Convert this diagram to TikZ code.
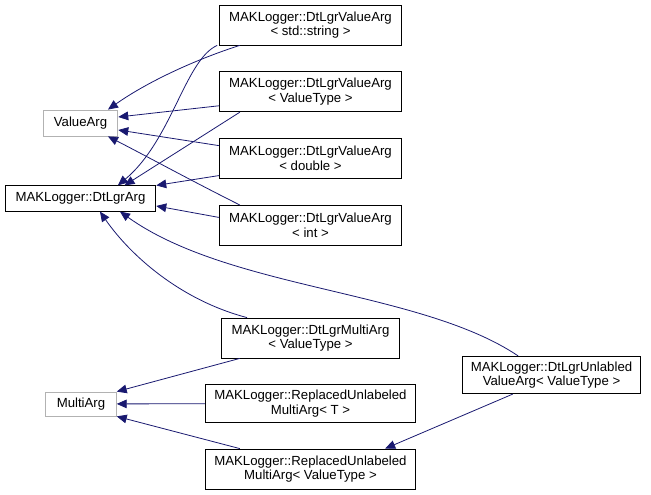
\documentclass[tikz,border=0pt]{standalone}
\usepackage{fontspec}
\setmainfont{Liberation Sans}
\usetikzlibrary{arrows.meta,positioning}

\begin{document}
\begin{tikzpicture}[x=0.75pt,y=-0.75pt,
  cls/.style={draw,fill=white,align=center,inner sep=1pt,font=\fontsize{9.9}{11}\selectfont,line width=0.6pt},
  ext/.style={cls,draw=black!30},
  inh/.style={draw={rgb,255:red,25;green,25;blue,112},line width=0.6pt,-{Triangle[length=7.5pt,width=6.5pt,fill={rgb,255:red,25;green,25;blue,112}]}}]
  \useasboundingbox (0,0) rectangle (651,495);
  % base classes
  \node[ext,minimum width=56pt,minimum height=19.5pt] (valuearg) at (80.5,123) {ValueArg};
  \node[cls,minimum width=113pt,minimum height=19pt] (dtlgrarg) at (80.5,198.5) {MAKLogger::DtLgrArg};
  \node[ext,minimum width=53pt,minimum height=18pt] (multiarg) at (81,404) {MultiArg};
  % value args
  \node[cls,minimum width=137pt,minimum height=30pt] (vstring) at (310.5,25) {MAKLogger::DtLgrValueArg\\{}< std::string >};
  \node[cls,minimum width=137pt,minimum height=30pt,below=19.5pt of vstring] (vtype) {MAKLogger::DtLgrValueArg\\{}< ValueType >};
  \node[cls,minimum width=137pt,minimum height=30pt,below=19.5pt of vtype] (vdouble) {MAKLogger::DtLgrValueArg\\{}< double >};
  \node[cls,minimum width=137pt,minimum height=30pt,below=19.5pt of vdouble] (vint) {MAKLogger::DtLgrValueArg\\{}< int >};
  % multi args
  \node[cls,minimum width=134pt,minimum height=30pt] (dmulti) at (310.5,338) {MAKLogger::DtLgrMultiArg\\{}< ValueType >};
  \node[cls,minimum width=158pt,minimum height=29pt] (rmultit) at (310.5,403.5) {MAKLogger::ReplacedUnlabeled\\MultiArg< T >};
  \node[cls,minimum width=158pt,minimum height=30pt] (rmultiv) at (310.5,469) {MAKLogger::ReplacedUnlabeled\\MultiArg< ValueType >};
  \node[cls,minimum width=133pt,minimum height=28pt] (unlabled) at (551.5,375) {MAKLogger::DtLgrUnlabled\\ValueArg< ValueType >};

  \draw[inh] ([xshift=-53pt]vstring.south) .. controls (200,58) and (150,80) .. ([xshift=20.6pt]valuearg.north);
  \draw[inh] ([xshift=-70pt]vstring.south) .. controls (185,60) and (172,140) .. ([xshift=28pt]dtlgrarg.north);
  \draw[inh] ([yshift=-10.5pt]vtype.west) -- ([yshift=4.5pt]valuearg.east);
  \draw[inh] ([xshift=-53pt]vtype.south) -- ([xshift=33pt]dtlgrarg.north);
  \draw[inh] ([yshift=9.75pt]vdouble.west) -- ([yshift=-5.25pt]valuearg.east);
  \draw[inh] ([yshift=-12.75pt]vdouble.west) -- (dtlgrarg.north east);
  \draw[inh] ([xshift=-53pt]vint.north) .. controls (190,180) and (150,158) .. ([xshift=20.6pt]valuearg.south);
  \draw[inh] ([yshift=6pt]vint.west) -- ([yshift=-5.6pt]dtlgrarg.east);
  \draw[inh] ([xshift=-47.6pt]dmulti.north) .. controls (180,300) and (130,255) .. ([xshift=14.6pt]dtlgrarg.south);
  \draw[inh] ([xshift=-25pt]unlabled.north) .. controls (420,290) and (230,290) .. ([xshift=29.6pt]dtlgrarg.south);
  \draw[inh] ([xshift=-53pt]dmulti.south) -- (multiarg.north east);
  \draw[inh] (rmultit) -- (multiarg);
  \draw[inh] ([xshift=-53pt]rmultiv.north) -- (multiarg.south east);
  \draw[inh] ([xshift=-29pt]unlabled.south) -- ([xshift=56pt]rmultiv.north);
\end{tikzpicture}
\end{document}
